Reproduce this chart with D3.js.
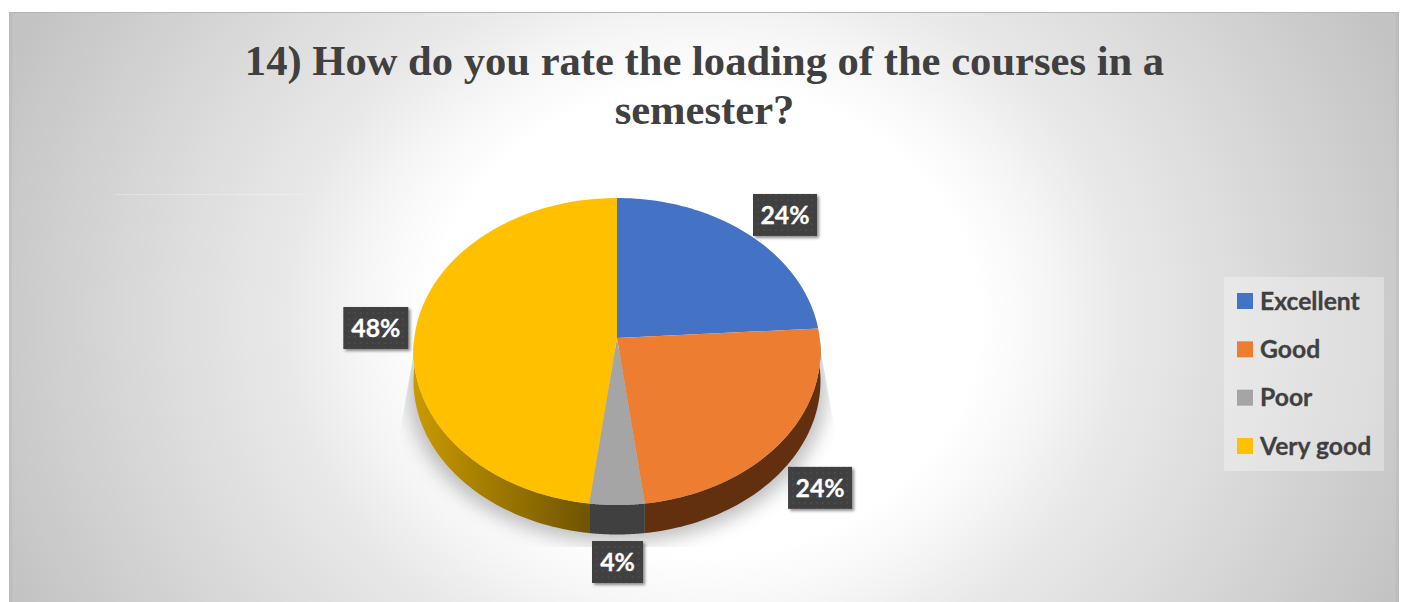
<!DOCTYPE html>
<html><head><meta charset="utf-8">
<style>html,body{margin:0;padding:0;background:#fff;overflow:hidden}svg{display:block}</style>
<script src="https://cdn.jsdelivr.net/npm/d3@7"></script></head>
<body><svg id="c" width="1405" height="602"></svg>
<script>
const categories = ["Excellent","Good","Poor","Very good"];
const values = [24,24,4,48];
const colors = ["#4472C4","#ED7D31","#A5A5A5","#FFC000"];
const titleLines = ["14) How do you rate the loading of the courses in a","semester?"];

const svg = d3.select("#c");
const defs = svg.append("defs");
const frame = {x:9,y:13,w:1390,h:589};

const bg = defs.append("radialGradient").attr("id","bg").attr("gradientUnits","userSpaceOnUse")
  .attr("cx",0).attr("cy",0).attr("r",1)
  .attr("gradientTransform","translate(705 320) scale(760 650)");
[[0,"#ffffff"],[0.36,"#ffffff"],[0.45,"#f6f6f6"],[0.55,"#e9e9e9"],[0.71,"#dcdcdc"],[1,"#c3c3c3"]].forEach(s=>bg.append("stop").attr("offset",s[0]).attr("stop-color",s[1]));

const f1 = defs.append("filter").attr("id","blur").attr("x","-20%").attr("y","-20%").attr("width","140%").attr("height","140%");
f1.append("feGaussianBlur").attr("stdDeviation",9);
const f2 = defs.append("filter").attr("id","ds").attr("x","-20%").attr("y","-20%").attr("width","150%").attr("height","150%");
f2.append("feDropShadow").attr("dx",2).attr("dy",2).attr("stdDeviation",1.6).attr("flood-color","#000").attr("flood-opacity",0.45);

const pat = defs.append("pattern").attr("id","dots").attr("patternUnits","userSpaceOnUse").attr("width",6).attr("height",6);
pat.append("rect").attr("width",6).attr("height",6).attr("fill","#404040");
pat.append("circle").attr("cx",3).attr("cy",3).attr("r",0.8).attr("fill","#565656");

const gy = defs.append("linearGradient").attr("id","sideY").attr("gradientUnits","userSpaceOnUse")
  .attr("x1",414).attr("x2",590).attr("y1",0).attr("y2",0);
[[0,"#c99a00"],[0.45,"#a07a00"],[1,"#6f5400"]].forEach(s=>gy.append("stop").attr("offset",s[0]).attr("stop-color",s[1]));

svg.append("rect").attr("x",frame.x).attr("y",frame.y-1).attr("width",frame.w).attr("height",1.5).attr("fill","#b5b5b5");
svg.append("rect").attr("x",frame.x).attr("y",frame.y).attr("width",frame.w).attr("height",frame.h).attr("fill","url(#bg)");
[frame.x,frame.x+frame.w-3].forEach(x=>svg.append("rect").attr("x",x).attr("y",frame.y).attr("width",3).attr("height",frame.h).attr("fill","#000").attr("opacity",0.03));
svg.append("rect").attr("x",115).attr("y",194).attr("width",190).attr("height",1).attr("fill","#ffffff").attr("opacity",0.28);

// title
svg.append("g").selectAll("text").data(titleLines).join("text")
  .attr("x",704.5).attr("y",(d,i)=>75+i*49).attr("text-anchor","middle")
  .attr("font-family","'Liberation Serif'").attr("font-weight",700).attr("font-size",42.6)
  .attr("fill","#404040").text(d=>d);

// projected pie
const cx=617, cy=338, A=202.7, B=152.3, P=0.0879, depth=29.5;
const proj = a => { const u=Math.sin(a), v=-Math.cos(a), w=1-P*v; return [cx+A*u/w, cy+B*v/w]; };
const arcs = d3.pie().sort(null).value(d=>d)(values);
const sample = (a0,a1) => d3.range(0,61).map(i=>proj(a0+(a1-a0)*i/60));
const line = d3.line();

// shadow
const clip = defs.append("clipPath").attr("id","shClip");
clip.append("path").attr("d",line([[414,352],[400,432],[400,547],[835,547],[835,432],[821,352]])+"Z");
svg.append("g").attr("clip-path","url(#shClip)")
  .append("path").attr("d",line(sample(0,2*Math.PI).map(p=>[617+(p[0]-617)*1.03,p[1]+38]))+"Z")
  .attr("fill","#999").attr("opacity",0.62).attr("filter","url(#blur)");

// side wall
const sideColors = ["#2c4a80","#63300f","#404040","url(#sideY)"];
svg.append("g").selectAll("path").data(arcs).join("path")
  .attr("d",d=>{
    const lo=Math.max(d.startAngle,Math.PI/2), hi=Math.min(d.endAngle,Math.PI*1.5);
    if(hi<=lo) return null;
    const top=sample(lo,hi), bot=top.map(p=>[p[0],p[1]+depth]).reverse();
    return line(top.concat(bot))+"Z";
  }).attr("fill",(d,i)=>sideColors[i]);

// top
svg.append("g").selectAll("path").data(arcs).join("path")
  .attr("d",d=>line([[cx,cy]].concat(sample(d.startAngle,d.endAngle)))+"Z")
  .attr("fill",(d,i)=>colors[i]);

// data labels
const labelOffset=[[37.6,-18.7],[37.6,47],[0.5,57],[-40,-0.5]];
const labelW=[64,64,51,65], labelH=42;
const lab = svg.append("g").selectAll("g").data(arcs).join("g")
  .attr("transform",(d,i)=>{const p=proj((d.startAngle+d.endAngle)/2);return `translate(${p[0]+labelOffset[i][0]},${p[1]+labelOffset[i][1]})`;});
lab.append("rect").attr("x",(d,i)=>-labelW[i]/2).attr("y",-labelH/2).attr("width",(d,i)=>labelW[i]).attr("height",labelH)
  .attr("fill","url(#dots)").attr("filter","url(#ds)");
lab.append("text").attr("text-anchor","middle").attr("y",9)
  .attr("font-family","Lato").attr("font-weight",700).attr("font-size",24.8).attr("fill","#fff")
  .attr("stroke","#fff").attr("stroke-width",0.3)
  .text(d=>d.value+"%");

// legend
const legend = svg.append("g");
legend.append("rect").attr("x",1224).attr("y",277).attr("width",160).attr("height",194).attr("fill","#fff").attr("opacity",0.32);
const ly = d3.scalePoint().domain(categories).range([301,446]);
const li = legend.selectAll("g").data(categories).join("g").attr("transform",d=>`translate(1237,${ly(d)})`);
li.append("rect").attr("y",-8).attr("width",16).attr("height",16).attr("fill",(d,i)=>colors[i]);
li.append("text").attr("x",23).attr("y",8.5)
  .attr("font-family","Lato").attr("font-weight",700).attr("font-size",24.7).attr("fill","#404040")
  .attr("stroke","#404040").attr("stroke-width",0.3).text(d=>d);
</script></body></html>
